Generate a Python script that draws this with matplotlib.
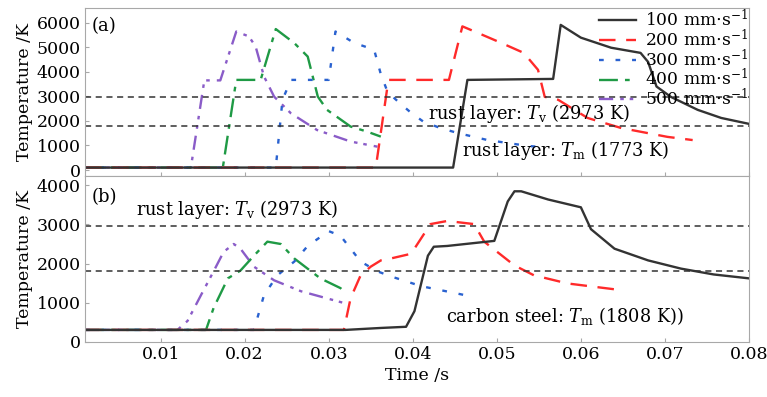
import matplotlib
matplotlib.use("Agg")
import matplotlib.pyplot as plt

plt.rcParams['font.family'] = ['DejaVu Serif']
plt.rcParams['mathtext.fontset'] = 'dejavuserif'

# scan speeds
speed_labels = ["100 mm$\\cdot$s$^{-1}$", "200 mm$\\cdot$s$^{-1}$", "300 mm$\\cdot$s$^{-1}$",
                "400 mm$\\cdot$s$^{-1}$", "500 mm$\\cdot$s$^{-1}$"]

# (a) rust layer surface temperature
t_a_100 = [0.001, 0.0448, 0.0465, 0.0567, 0.0576, 0.0600, 0.0636, 0.0671, 0.0680, 0.0690, 0.0707, 0.0739, 0.0767, 0.0800]
T_a_100 = [100, 100, 3670, 3710, 5910, 5390, 4980, 4770, 4400, 3400, 2980, 2450, 2120, 1880]
t_a_200 = [0.001, 0.0356, 0.0371, 0.0443, 0.0459, 0.0477, 0.0505, 0.0532, 0.0549, 0.0557, 0.0573, 0.0608, 0.0648, 0.0703, 0.0733]
T_a_200 = [100, 100, 3670, 3670, 5850, 5590, 5180, 4770, 4080, 2980, 2860, 2120, 1710, 1350, 1220]
t_a_300 = [0.001, 0.0237, 0.0245, 0.0255, 0.0300, 0.0308, 0.0330, 0.0354, 0.0362, 0.0370, 0.0383, 0.0398, 0.0413, 0.0433, 0.0453, 0.0489, 0.0537, 0.0552]
T_a_300 = [100, 100, 2860, 3670, 3670, 5640, 5180, 4900, 3900, 3180, 2770, 2330, 1960, 1710, 1510, 1220, 980, 940]
t_a_400 = [0.001, 0.0174, 0.0190, 0.0219, 0.0237, 0.0259, 0.0275, 0.0287, 0.0298, 0.0326, 0.0346, 0.0362]
T_a_400 = [100, 100, 3670, 3670, 5740, 5170, 4620, 2990, 2450, 1770, 1560, 1360]
t_a_500 = [0.001, 0.0136, 0.0152, 0.0171, 0.0190, 0.0205, 0.0213, 0.0223, 0.0235, 0.0255, 0.0286, 0.0326, 0.0358]
T_a_500 = [100, 100, 3650, 3650, 5640, 5440, 5030, 3810, 2990, 2310, 1630, 1160, 950]

# (b) carbon steel surface temperature
t_b_100 = [0.001, 0.0320, 0.0362, 0.0392, 0.0402, 0.0418, 0.0425, 0.0441, 0.0497, 0.0513, 0.0521, 0.0529, 0.0561, 0.0600, 0.0612, 0.0640, 0.0680, 0.0719, 0.0758, 0.0800]
T_b_100 = [300, 300, 350, 380, 780, 2200, 2430, 2450, 2580, 3590, 3850, 3850, 3640, 3440, 2880, 2380, 2080, 1870, 1720, 1620]
t_b_200 = [0.001, 0.0318, 0.0326, 0.0338, 0.0350, 0.0362, 0.0374, 0.0398, 0.0421, 0.0441, 0.0473, 0.0485, 0.0521, 0.0544, 0.0584, 0.0640]
T_b_200 = [300, 300, 1110, 1700, 1920, 2080, 2130, 2250, 3010, 3090, 3010, 2560, 1950, 1700, 1490, 1340]
t_b_300 = [0.001, 0.0211, 0.0223, 0.0239, 0.0259, 0.0275, 0.0300, 0.0314, 0.0338, 0.0358, 0.0374, 0.0410, 0.0469]
T_b_300 = [300, 300, 1190, 1700, 2050, 2450, 2830, 2710, 2050, 1800, 1670, 1420, 1160]
t_b_400 = [0.001, 0.0154, 0.0163, 0.0180, 0.0195, 0.0211, 0.0227, 0.0243, 0.0259, 0.0290, 0.0314, 0.0318]
T_b_400 = [300, 300, 860, 1620, 1820, 2200, 2560, 2500, 2130, 1620, 1370, 1290]
t_b_500 = [0.001, 0.0120, 0.0132, 0.0148, 0.0163, 0.0175, 0.0187, 0.0195, 0.0211, 0.0235, 0.0267, 0.0306, 0.0318]
T_b_500 = [300, 300, 530, 1190, 1800, 2300, 2500, 2380, 1920, 1570, 1290, 1060, 990]

Tv_rust = 2973
Tm_rust = 1773
Tm_steel = 1808

colors = ['#333333', '#ff2a2a', '#2a62d0', '#1f9a45', '#8a5cc8']
styles = ['-', (0, (7, 4.5)), (0, (2, 5)), (0, (8, 3, 2, 3)), (0, (6, 3, 1.5, 2.5, 1.5, 3))]

fig = plt.figure(figsize=(7.67, 3.97), dpi=100)
ax1 = fig.add_axes([0.1108, 0.5575, 0.8657, 0.4225])
ax2 = fig.add_axes([0.1108, 0.1395, 0.8657, 0.4180])

series_a = [(t_a_100, T_a_100), (t_a_200, T_a_200), (t_a_300, T_a_300), (t_a_400, T_a_400), (t_a_500, T_a_500)]
series_b = [(t_b_100, T_b_100), (t_b_200, T_b_200), (t_b_300, T_b_300), (t_b_400, T_b_400), (t_b_500, T_b_500)]

# draw slowest speed last so it sits on top
for i in reversed(range(5)):
    ax1.plot(series_a[i][0], series_a[i][1], color=colors[i], linestyle=styles[i], lw=1.7, label=speed_labels[i])
    ax2.plot(series_b[i][0], series_b[i][1], color=colors[i], linestyle=styles[i], lw=1.7)

for ax in (ax1, ax2):
    ax.set_xlim(0.001, 0.08)
    for s in ax.spines.values():
        s.set_color('#a8a8a8')
    ax.tick_params(direction='in', length=3, color='#a8a8a8', labelsize=12.5, pad=3)
    ax.set_ylabel("Temperature /K", fontsize=12.5, labelpad=3)
    ax.set_xticks([0.01, 0.02, 0.03, 0.04, 0.05, 0.06, 0.07, 0.08])

ax1.axhline(Tv_rust, color='#333333', ls=(0, (4, 3)), lw=1.1)
ax1.axhline(Tm_rust, color='#333333', ls=(0, (4, 3)), lw=1.1)
ax2.axhline(Tv_rust, color='#333333', ls=(0, (4, 3)), lw=1.1)
ax2.axhline(Tm_steel, color='#333333', ls=(0, (4, 3)), lw=1.1)

ax1.set_ylim(-230, 6600)
ax1.set_yticks([0, 1000, 2000, 3000, 4000, 5000, 6000])
ax1.tick_params(labelbottom=False)
ax2.set_ylim(0, 4250)
ax2.set_yticks([0, 1000, 2000, 3000, 4000])
ax2.set_xticklabels(['0.01', '0.02', '0.03', '0.04', '0.05', '0.06', '0.07', '0.08'])
ax2.set_xlabel("Time /s", fontsize=12.5, labelpad=3)

ax1.text(0.0018, 5870, "(a)", fontsize=13, va='center')
ax2.text(0.0018, 3700, "(b)", fontsize=13, va='center')
ax1.text(0.0418, 2320, "rust layer: $T_\\mathrm{v}$ (2973 K)", fontsize=12.8, va='center')
ax1.text(0.0458, 800, "rust layer: $T_\\mathrm{m}$ (1773 K)", fontsize=12.8, va='center')
ax2.text(0.0071, 3380, "rust layer: $T_\\mathrm{v}$ (2973 K)", fontsize=12.8, va='center')
ax2.text(0.0439, 650, "carbon steel: $T_\\mathrm{m}$ (1808 K))", fontsize=12.8, va='center')

handles, labels = ax1.get_legend_handles_labels()
ax1.legend(handles[::-1], labels[::-1], loc='upper right', frameon=False, fontsize=12.3,
           handlelength=2.2, labelspacing=-0.08, borderaxespad=0.0, handletextpad=0.5,
           borderpad=0.05)

fig.savefig("out.png", dpi=100)
